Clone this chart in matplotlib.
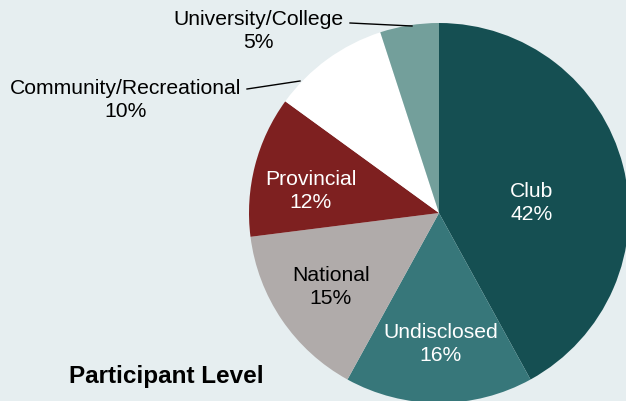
import matplotlib
matplotlib.use("Agg")
import matplotlib.pyplot as plt

categories = ["Club", "Undisclosed", "National", "Provincial",
              "Community/Recreational", "University/College"]
values = [42, 16, 15, 12, 10, 5]
title = "Participant Level"

colors = ["#154f52", "#37777a", "#b0abaa", "#7e2020", "#ffffff", "#739f9b"]
bg = "#e6eef0"

plt.rcParams['font.family'] = ['Liberation Sans', 'DejaVu Sans']

W, H = 626, 402
fig = plt.figure(figsize=(W / 100, H / 100), dpi=100, facecolor=bg)
ax = fig.add_axes([0, 0, 1, 1])
ax.set_facecolor(bg)

cx, cy, R = 439, H - 214, 190
ax.pie(values, colors=colors, startangle=90, counterclock=False,
       center=(cx, cy), radius=R, wedgeprops=dict(linewidth=0),
       frame=True)
ax.set_xlim(0, W)
ax.set_ylim(0, H)
ax.set_aspect('equal')
ax.axis('off')

fs = 15.2
ls = 1.3
inner = {
    "Club": ((532, 203), "white"),
    "Undisclosed": ((441, 344), "white"),
    "National": ((331, 287), "black"),
    "Provincial": ((311, 191), "white"),
}
outer = {
    "Community/Recreational": ((126, 100), (247, 90), (300, 82)),
    "University/College": ((258, 31), (350, 24), (412, 27)),
}
for cat, v in zip(categories, values):
    label = f"{cat}\n{v}%"
    if cat in inner:
        (x, y), c = inner[cat]
        ax.text(x, H - y, label, ha='center', va='center', color=c,
                fontsize=fs, linespacing=ls)
    else:
        (x, y), p0, p1 = outer[cat]
        ax.text(x, H - y, label, ha='center', va='center', color='black',
                fontsize=fs, linespacing=ls)
        ax.plot([p0[0], p1[0]], [H - p0[1], H - p1[1]], color='black', lw=1)

ax.text(166, H - 377, title, ha='center', va='center', fontsize=17.5,
        fontweight='bold', color='black')

fig.savefig("out.png", dpi=100, facecolor=bg)
